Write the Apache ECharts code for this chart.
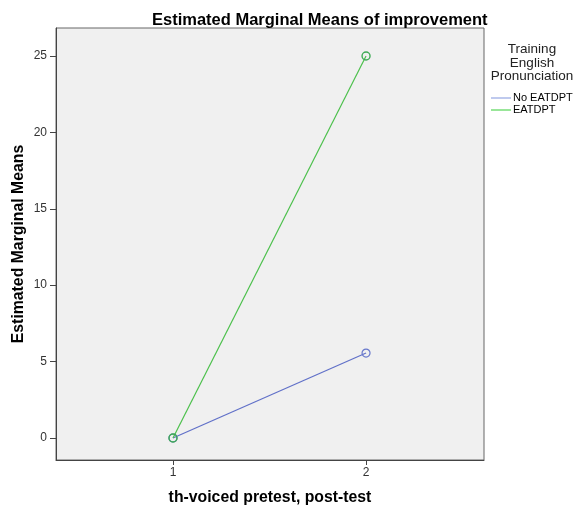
<!DOCTYPE html>
<html><head><meta charset="utf-8">
<script src="https://cdn.jsdelivr.net/npm/echarts@6/dist/echarts.min.js"></script>
<style>html,body{margin:0;padding:0;background:#fff}#c{width:574px;height:506px}</style>
</head><body><div id="c"></div>
<script>
const categories = [1, 2];
const tickLabels = ['1', '2'];
const noEatdpt = [0, 5.56];
const eatdpt = [0, 25.0];
const seriesNames = ['No EATDPT', 'EATDPT'];
const yTicks = [0, 5, 10, 15, 20, 25];

const chart = echarts.init(document.getElementById('c'), null, {renderer: 'canvas'});
const F = 'Arial, "Liberation Sans", sans-serif';
function mk(vals){ return categories.map((c,i)=>[c, vals[i]]); }
chart.setOption({
  animation: false,
  backgroundColor: '#fff',
  title: {
    text: 'Estimated Marginal Means of improvement',
    left: 152, top: 12, padding: 0,
    textStyle: {fontFamily: F, fontSize: 16.5, fontWeight: 'bold', color: '#000'}
  },
  graphic: [{
    type: 'text', x: 532, y: 43,
    style: {text: 'Training\nEnglish\nPronunciation', font: '13.5px ' + F, fill: '#222', align: 'center', verticalAlign: 'top', lineHeight: 13.5},
    z: 10
  }],
  legend: {
    orient: 'vertical', left: 491, top: 92, padding: 0,
    itemWidth: 20, itemHeight: 1, itemGap: 0,
    icon: 'rect',
    itemStyle: {borderWidth: 0},
    lineStyle: {width: 0},
    textStyle: {fontFamily: F, fontSize: 11, lineHeight: 12, height: 12, color: '#000', padding: [0,0,0,-3]},
    data: [
      {name: seriesNames[0], itemStyle: {color: '#7F95DD', borderWidth: 0}},
      {name: seriesNames[1], itemStyle: {color: '#33CC33', borderWidth: 0}}
    ]
  },
  grid: {
    left: 56, top: 28, width: 428, height: 432,
    outerBoundsMode: 'none', containLabel: false,
    show: true, backgroundColor: '#F0F0F0', borderColor: '#666', borderWidth: 1
  },
  xAxis: {
    type: 'value', min: 0.394, max: 2.611,
    name: 'th-voiced pretest, post-test', nameLocation: 'middle', nameGap: 30,
    nameTextStyle: {fontFamily: F, fontSize: 15.8, fontWeight: 'bold', color: '#000'},
    axisLine: {show: true, onZero: false, lineStyle: {color: '#444'}},
    axisTick: {show: true, length: 5, customValues: categories, lineStyle: {color: '#444'}},
    axisLabel: {customValues: categories, formatter: v => tickLabels[categories.indexOf(v)] || '', fontFamily: F, fontSize: 12, color: '#333', margin: 7},
    splitLine: {show: false}
  },
  yAxis: {
    type: 'value', min: -1.44, max: 26.83,
    name: 'Estimated Marginal Means', nameLocation: 'middle', nameGap: 29, nameMoveOverlap: false,
    nameTextStyle: {fontFamily: F, fontSize: 15.8, fontWeight: 'bold', color: '#000'},
    axisLine: {show: true, onZero: false, lineStyle: {color: '#444'}},
    axisTick: {show: true, length: 6, customValues: yTicks, lineStyle: {color: '#444'}},
    axisLabel: {customValues: yTicks, fontFamily: F, fontSize: 12, color: '#333', margin: 9},
    splitLine: {show: false}
  },
  series: [
    {name: seriesNames[0], type: 'line', data: mk(noEatdpt), color: '#6070C8',
     lineStyle: {width: 1.2, color: '#6070C8'}, symbol: 'circle', symbolSize: 8,
     itemStyle: {color: 'rgba(0,0,0,0)', borderColor: '#6878CC', borderWidth: 1.2}, z: 2},
    {name: seriesNames[1], type: 'line', data: mk(eatdpt), color: '#4CC04C',
     lineStyle: {width: 1.2, color: '#4CC04C'}, symbol: 'circle', symbolSize: 8,
     itemStyle: {color: 'rgba(0,0,0,0)', borderColor: '#3EAA55', borderWidth: 1.4}, z: 3}
  ]
});
</script></body></html>
